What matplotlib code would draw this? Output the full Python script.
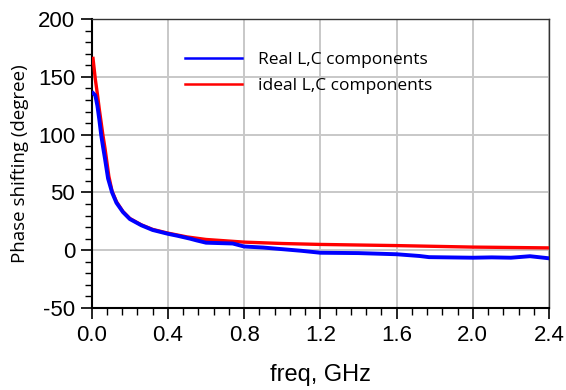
import numpy as np
import matplotlib.pyplot as plt
from matplotlib.ticker import MultipleLocator

plt.rcParams['axes.unicode_minus'] = False

# Frequency points (GHz) and phase shift (degree) for both circuits
freq_ideal = [0.007, 0.019, 0.03, 0.04, 0.059, 0.07, 0.09, 0.107, 0.13, 0.164,
              0.20, 0.26, 0.32, 0.40, 0.50, 0.60, 0.80, 1.00, 1.20, 1.60,
              2.00, 2.40]
phase_ideal = [166, 148, 135, 122, 99.5, 88, 64, 51, 42, 33.5,
               27.5, 22, 18, 14.8, 11.5, 9.3, 7, 5.8, 5, 4,
               2.7, 2.0]

freq_real = [0.007, 0.019, 0.03, 0.04, 0.05, 0.06, 0.07, 0.086, 0.107, 0.13,
             0.164, 0.20, 0.26, 0.32, 0.40, 0.45, 0.516, 0.55, 0.60, 0.74,
             0.80, 0.90, 1.00, 1.10, 1.20, 1.40, 1.60, 1.72, 1.77, 2.00,
             2.10, 2.20, 2.30, 2.40]
phase_real = [136, 134, 125, 113, 99.5, 89, 79, 62, 50, 41,
              33, 27, 21.6, 17.5, 14.2, 12.5, 10, 8.5, 6.5, 5.8,
              3.2, 2.3, 0.9, -0.5, -2.2, -2.5, -3.5, -5, -6, -6.5,
              -6.2, -6.5, -5.2, -7]

fig = plt.figure(figsize=(5.66, 3.9), dpi=100)
ax = fig.add_axes([0.162, 0.2103, 0.808, 0.7407])

ax.plot(freq_ideal, phase_ideal, color='#ff0000', lw=2.4, zorder=3,
        label='ideal L,C components')
ax.plot(freq_real, phase_real, color='#0000ff', lw=2.8, zorder=4,
        label='Real L,C components')

ax.set_xlim(0, 2.4)
ax.set_ylim(-50, 200)
ax.xaxis.set_major_locator(MultipleLocator(0.4))
ax.xaxis.set_minor_locator(MultipleLocator(0.08))
ax.yaxis.set_major_locator(MultipleLocator(50))
ax.yaxis.set_minor_locator(MultipleLocator(10))
ax.set_xticks(np.arange(0, 2.41, 0.4))
ax.set_xticklabels([f'{v:.1f}' for v in np.arange(0, 2.41, 0.4)])

ax.grid(True, which='major', color='#c8c8c8', lw=1.4)
ax.set_axisbelow(True)
for s in ax.spines.values():
    s.set_color('#333333')
    s.set_linewidth(1.0)
ax.spines['left'].set_color('black')
ax.spines['bottom'].set_color('black')
ax.spines['left'].set_linewidth(1.5)
ax.spines['bottom'].set_linewidth(1.5)

ax.tick_params(which='major', length=8, width=1.2, direction='out',
               labelsize=16, pad=4)
ax.tick_params(which='minor', length=5, width=1.0, direction='out')
for lab in ax.get_xticklabels() + ax.get_yticklabels():
    lab.set_family('Liberation Sans')

ax.set_xlabel('freq, GHz', family='Liberation Sans', fontsize=17, labelpad=13)
ax.set_ylabel('Phase shifting (degree)', family='Open Sans', fontsize=13.5,
              labelpad=6)

handles, labels = ax.get_legend_handles_labels()
leg = ax.legend(handles[::-1], labels[::-1], loc='upper left',
                bbox_to_anchor=(0.17, 0.94), frameon=False,
                prop={'family': 'Open Sans', 'size': 12.5},
                handlelength=3.3, handletextpad=0.9, labelspacing=0.55)
for line in leg.get_lines():
    line.set_linewidth(1.8)

fig.savefig('out.png', dpi=100)
